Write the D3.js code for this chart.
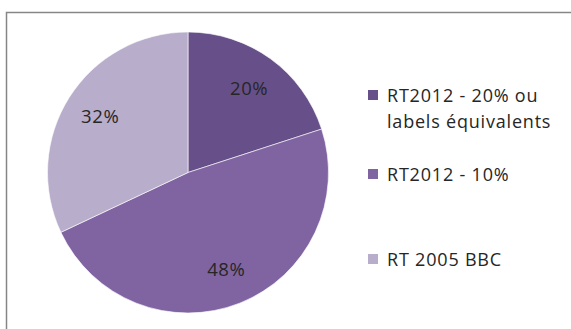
<!DOCTYPE html>
<html>
<head>
<meta charset="utf-8">
<script src="https://cdn.jsdelivr.net/npm/d3@7"></script>
<style>
  html, body { margin: 0; padding: 0; background: #fff; }
  svg { display: block; }
  text { font-family: "Open Sans", "Liberation Sans", sans-serif; fill: #262626; }
</style>
</head>
<body>
<script>
const categories = ["RT2012 - 20% ou labels équivalents", "RT2012 - 10%", "RT 2005 BBC"];
const legendLines = [["RT2012 - 20% ou", "labels équivalents"], ["RT2012 - 10%"], ["RT 2005 BBC"]];
const values = [20, 48, 32];
const colors = ["#675089", "#8064a2", "#b8adcb"];

const W = 571, H = 329;
const svg = d3.select("body").append("svg").attr("width", W).attr("height", H);

// chart frame
svg.append("rect")
  .attr("x", 6.5).attr("y", 12.5)
  .attr("width", W + 10).attr("height", H + 10)
  .attr("fill", "#fff").attr("stroke", "#868686").attr("stroke-width", 1.5);

const cx = 188, cy = 172.5, R = 140.5;
const pie = d3.pie().sort(null).value(d => d);
const arcs = pie(values);
const arc = d3.arc().innerRadius(0).outerRadius(R);
const labelArc = d3.arc().innerRadius(104).outerRadius(104);

const g = svg.append("g").attr("transform", `translate(${cx},${cy})`);
g.selectAll("path").data(arcs).enter().append("path")
  .attr("d", arc)
  .attr("fill", (d, i) => colors[i])
  .attr("stroke", "#fff").attr("stroke-width", 0.6);

const total = d3.sum(values);
g.selectAll("text.lbl").data(arcs).enter().append("text")
  .attr("class", "lbl")
  .attr("transform", d => `translate(${labelArc.centroid(d)})`)
  .attr("text-anchor", "middle")
  .attr("dy", "0.36em")
  .style("font-size", "18.5px")
  .style("letter-spacing", "0.6px")
  .text(d => Math.round(d.data / total * 100) + "%");

// legend
const legendY = [90, 169, 254];
const lg = svg.append("g");
legendLines.forEach((lines, i) => {
  lg.append("rect")
    .attr("x", 368).attr("y", legendY[i])
    .attr("width", 10).attr("height", 10)
    .attr("fill", colors[i]);
  const t = lg.append("text")
    .attr("x", 387).attr("y", legendY[i] + 12)
    .style("font-size", "18px")
    .style("letter-spacing", "0.8px");
  lines.forEach((ln, j) => {
    t.append("tspan").attr("x", 387).attr("dy", j === 0 ? 0 : 25.5).text(ln);
  });
});
</script>
</body>
</html>
